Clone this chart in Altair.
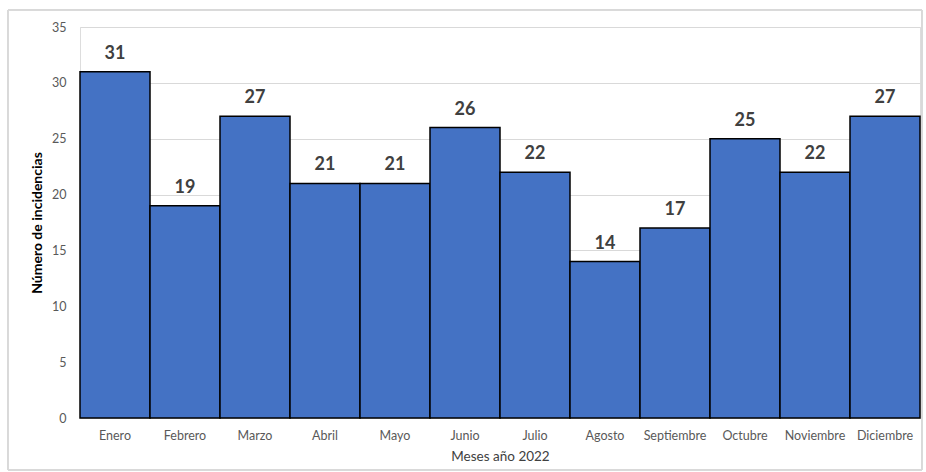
import altair as alt
import pandas as pd

meses = ["Enero", "Febrero", "Marzo", "Abril", "Mayo", "Junio", "Julio",
         "Agosto", "Septiembre", "Octubre", "Noviembre", "Diciembre"]
incidencias = [31, 19, 27, 21, 21, 26, 22, 14, 17, 25, 22, 27]

df = pd.DataFrame({"mes": meses, "n": incidencias})

FONT = "Lato"

x = alt.X("mes:N", sort=meses, title="Meses año 2022",
          scale=alt.Scale(paddingInner=0, paddingOuter=0),
          axis=alt.Axis(labelAngle=0, labelColor="#595959", labelFontSize=12.5,
                        labelFont=FONT, titleFont=FONT, titleFontSize=13.5,
                        titleFontWeight="normal", titleColor="#404040",
                        ticks=False, domainColor="#d9d9d9", labelPadding=11,
                        titlePadding=8))
y = alt.Y("n:Q", title="Número de incidencias",
          scale=alt.Scale(domain=[0, 35]),
          axis=alt.Axis(values=[0, 5, 10, 15, 20, 25, 30, 35], labelColor="#595959",
                        labelFontSize=12.5, labelFont=FONT, titleFont=FONT,
                        titleFontSize=14, titleFontWeight="bold", titleColor="#000000",
                        ticks=False, domain=False, gridColor="#d9d9d9",
                        labelPadding=14, titlePadding=7))

bars = alt.Chart(df).mark_bar(color="#4472C4", stroke="#000000", strokeWidth=1.5).encode(x=x, y=y)
text = alt.Chart(df).mark_text(dy=-18, font=FONT, fontSize=18, fontWeight="bold",
                               color="#404040").encode(
    x=alt.X("mes:N", sort=meses), y="n:Q", text="n:Q")

border = alt.Chart(df).mark_rect(fill=None, stroke="#d9d9d9", strokeWidth=1).encode(
    x=alt.value(-72), x2=alt.value(842), y=alt.value(-17), y2=alt.value(52 + 391))

chart = alt.layer(border, bars, text).properties(
    width=840, height=391,
    autosize=alt.AutoSizeParams(type="none"),
    padding={"left": 80, "top": 27, "right": 6, "bottom": 54},
).configure_view(stroke=None).configure(background="white")

chart.save("out.html", embed_options={"renderer": "svg", "actions": False})
